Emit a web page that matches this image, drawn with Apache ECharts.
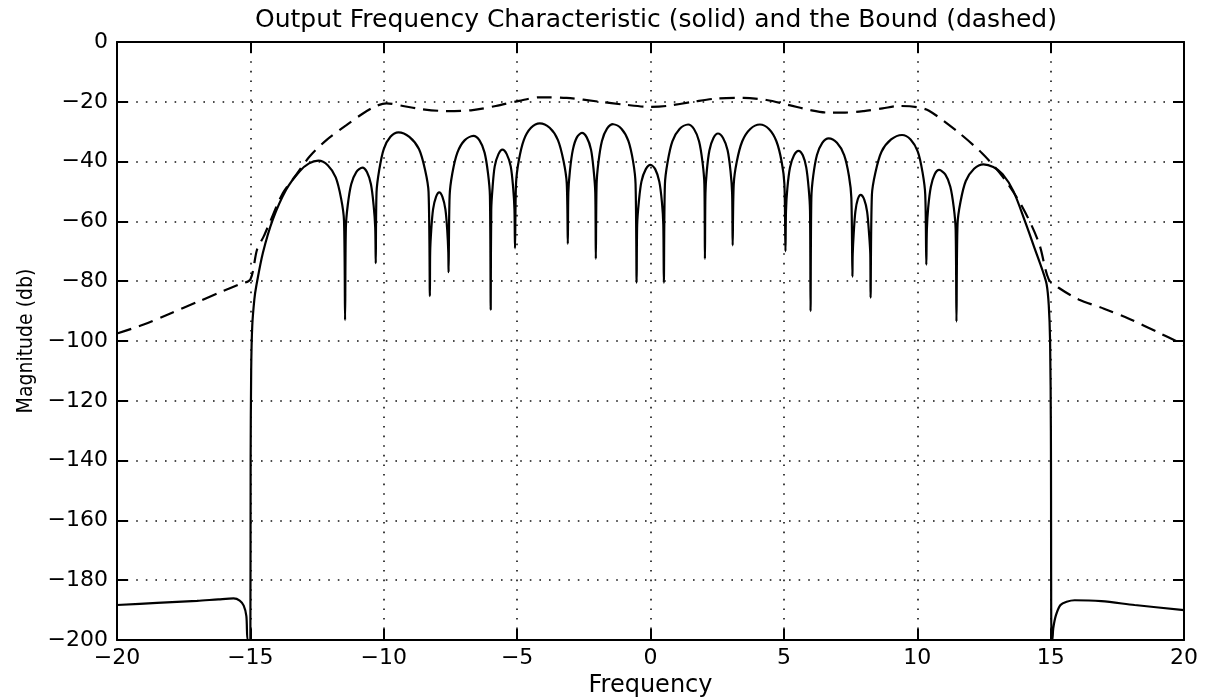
<!DOCTYPE html>
<html>
<head>
<meta charset="utf-8">
<script src="https://cdn.jsdelivr.net/npm/echarts@6/dist/echarts.min.js"></script>
<style>
html,body{margin:0;padding:0;background:#fff;overflow:hidden;}
#chart{width:1208px;height:697px;}
</style>
</head>
<body>
<div id="chart"></div>
<script>
// ---- data ----
const titleText = 'Output Frequency Characteristic (solid) and the Bound (dashed)';
const xName = 'Frequency';
const yName = 'Magnitude (db)';
const xTicks = [-20, -15, -10, -5, 0, 5, 10, 15, 20];
const yTicks = [0, -20, -40, -60, -80, -100, -120, -140, -160, -180, -200];

// solid: output frequency characteristic [frequency, dB]
const outputResponse = [
  [-20, -188.3], [-18.5, -187.6], [-17, -186.9], [-16.2, -186.4], [-15.63, -186.1], [-15.4, -186.8], [-15.25, -188.5], [-15.15, -192], [-15.1, -200],
  [-15.0, -200], [-14.99, -140], [-14.97, -110], [-14.93, -95], [-14.85, -86], [-14.78, -81.7], [-14.53, -70.5], [-14.16, -59.4], [-13.66, -49.4], [-13.16, -43.3], [-12.8, -40.6], [-12.45, -39.7],
  [-12.10, -41.2], [-11.80, -45.3], [-11.60, -52.3], [-11.49, -59.7], [-11.45, -93],
  [-11.42, -62], [-11.35, -54.6], [-11.22, -47.6], [-11.03, -43.5], [-10.80, -42], [-10.63, -43.5], [-10.48, -47.6], [-10.38, -54.6], [-10.32, -62], [-10.30, -74],
  [-10.27, -50.2], [-10.17, -42.8], [-10.00, -35.8], [-9.75, -31.7], [-9.45, -30.2], [-9.04, -31.7], [-8.68, -35.8], [-8.45, -42.8], [-8.32, -50.2], [-8.27, -85],
  [-8.26, -70.3], [-8.22, -62.9], [-8.15, -55.9], [-8.04, -51.8], [-7.92, -50.3], [-7.80, -51.8], [-7.69, -55.9], [-7.62, -62.9], [-7.58, -70.3], [-7.57, -77],
  [-7.53, -51.4], [-7.43, -44], [-7.24, -37], [-6.97, -32.9], [-6.64, -31.4], [-6.41, -32.9], [-6.22, -37], [-6.09, -44], [-6.02, -51.4], [-5.99, -89.5],
  [-5.97, -56], [-5.92, -48.6], [-5.84, -41.6], [-5.70, -37.5], [-5.55, -36], [-5.39, -37.5], [-5.24, -41.6], [-5.15, -48.6], [-5.10, -56], [-5.08, -69],
  [-5.04, -47.2], [-4.94, -39.8], [-4.75, -32.8], [-4.48, -28.7], [-4.15, -27.2], [-3.78, -28.7], [-3.47, -32.8], [-3.26, -39.8], [-3.14, -47.2], [-3.10, -67.5],
  [-3.08, -50.4], [-3.02, -43], [-2.91, -36], [-2.76, -31.9], [-2.57, -30.4], [-2.39, -31.9], [-2.23, -36], [-2.13, -43], [-2.07, -50.4], [-2.05, -72.5],
  [-2.02, -47.5], [-1.95, -40.1], [-1.82, -33.1], [-1.63, -29], [-1.40, -27.5], [-1.09, -29], [-0.83, -33.1], [-0.65, -40.1], [-0.56, -47.5], [-0.52, -80.5],
  [-0.50, -61.1], [-0.44, -53.7], [-0.34, -46.7], [-0.18, -42.6], [0, -41.1], [0.18, -42.6], [0.33, -46.7], [0.43, -53.7], [0.48, -61.1], [0.50, -80.5],
  [0.54, -47.6], [0.64, -40.2], [0.82, -33.2], [1.09, -29.1], [1.41, -27.6], [1.63, -29.1], [1.82, -33.2], [1.95, -40.2], [2.02, -47.6], [2.04, -72.5],
  [2.06, -50.6], [2.11, -43.2], [2.21, -36.2], [2.36, -32.1], [2.53, -30.6], [2.72, -32.1], [2.89, -36.2], [3.00, -43.2], [3.06, -50.6], [3.08, -68],
  [3.12, -47.6], [3.23, -40.2], [3.44, -33.2], [3.74, -29.1], [4.10, -27.6], [4.44, -29.1], [4.72, -33.2], [4.92, -40.2], [5.02, -47.6], [5.06, -70],
  [5.08, -56.4], [5.13, -49], [5.23, -42], [5.38, -37.9], [5.55, -36.4], [5.71, -37.9], [5.84, -42], [5.93, -49], [5.98, -56.4], [6.00, -90],
  [6.03, -52.2], [6.10, -44.8], [6.24, -37.8], [6.44, -33.7], [6.68, -32.2], [6.99, -33.7], [7.26, -37.8], [7.44, -44.8], [7.53, -52.2], [7.57, -78.5],
  [7.58, -71.1], [7.62, -63.7], [7.68, -56.7], [7.77, -52.6], [7.88, -51.1], [8.01, -52.6], [8.12, -56.7], [8.19, -63.7], [8.24, -71.1], [8.25, -85.5],
  [8.30, -51.1], [8.43, -43.7], [8.66, -36.7], [9.02, -32.6], [9.43, -31.1], [9.75, -32.6], [10.02, -36.7], [10.20, -43.7], [10.30, -51.1], [10.34, -74.5],
  [10.36, -62.8], [10.41, -55.4], [10.51, -48.4], [10.65, -44.3], [10.82, -42.8], [11.05, -44.3], [11.24, -48.4], [11.37, -55.4], [11.44, -62.8], [11.47, -93.5],
  [11.51, -60.9], [11.62, -53.5], [11.82, -46.5], [12.13, -42.4], [12.48, -40.9], [12.85, -41.8], [13.2, -44.2], [13.6, -49.8], [14.04, -60], [14.4, -69], [14.7, -76.5], [14.85, -81], [14.93, -88], [14.98, -100], [15.01, -130], [15.03, -200],
  [15.06, -200], [15.1, -196], [15.2, -191.7], [15.37, -188.3], [15.6, -187.2], [15.9, -186.7], [16.9, -187], [18.15, -188.3], [20, -190]
];

// dashed: the bound [frequency, dB]
const boundCurve = [
  [-20, -97.5], [-19, -94.5], [-18, -90.8], [-17, -87], [-16, -83.2], [-15.4, -81], [-15, -79.4], [-14.75, -69.4], [-14.5, -65],
  [-14.28, -60.5], [-13.78, -50.5], [-13.28, -44.4], [-12.78, -38.3], [-12.15, -32.8], [-11.4, -27.8], [-10.78, -23.9], [-10.28, -21.4],
  [-9.9, -20.5], [-9.28, -21.4], [-8.53, -22.5], [-7.66, -23.1], [-6.67, -22.8], [-5.8, -21.4], [-4.93, -19.7], [-4.15, -18.5], [-3.15, -18.7],
  [-1.9, -20], [-1.03, -20.9], [0, -21.7], [0.6, -21.4], [1.6, -20], [2.48, -18.9], [3.48, -18.7], [4.35, -19.4], [5.2, -21.1], [6.0, -22.8],
  [6.64, -23.6], [7.3, -23.6], [8.0, -23.1], [8.7, -22.2], [9.3, -21.4], [10, -21.8], [10.44, -23], [11.43, -29.4], [12.43, -37.2], [13.2, -45],
  [13.93, -55], [14.56, -67.2], [14.93, -79.4], [15.3, -82.2], [16.05, -86.1], [17, -89.2], [18, -92.8], [19, -97], [20, -101.3]
];

// ---- chart ----
const FONT = 'DejaVu Sans';
const fmt = v => (v < 0 ? '\u2212' + Math.abs(v) : String(v));
const dotted = { color: '#111', width: 1.6, type: [1.6, 8] };
const axisLine = { show: true, onZero: false, lineStyle: { color: '#000', width: 2 } };
const tick = { show: true, inside: true, length: 11, lineStyle: { color: '#000', width: 2 } };

const xMin = xTicks[0], xMax = xTicks[xTicks.length - 1];
const yMin = yTicks[yTicks.length - 1], yMax = yTicks[0];

const chart = echarts.init(document.getElementById('chart'), null, { renderer: 'canvas' });
chart.setOption({
  backgroundColor: '#fff',
  animation: false,
  title: {
    text: titleText,
    left: 651, top: 3, textAlign: 'center',
    textStyle: { fontFamily: FONT, fontSize: 25, fontWeight: 'normal', color: '#000' }
  },
  grid: { left: 117, right: 24, top: 42, bottom: 57, containLabel: false, outerBoundsMode: 'none' },
  xAxis: [{
    type: 'value', min: xMin, max: xMax, interval: 5, position: 'bottom',
    name: xName, nameLocation: 'middle', nameGap: 30,
    nameTextStyle: { fontFamily: FONT, fontSize: 24, color: '#000' },
    axisLine: axisLine, axisTick: tick,
    axisLabel: { fontFamily: FONT, fontSize: 22, color: '#000', margin: 7, formatter: fmt },
    splitLine: { show: true, lineStyle: dotted }
  }, {
    type: 'value', min: xMin, max: xMax, interval: 5, position: 'top',
    axisLine: axisLine, axisTick: tick, axisLabel: { show: false }, splitLine: { show: false }
  }],
  yAxis: [{
    type: 'value', min: yMin, max: yMax, interval: 20, position: 'left',
    name: yName, nameLocation: 'middle', nameGap: 80, nameRotate: 90,
    nameTextStyle: { fontFamily: '"DejaVu Sans Condensed", sans-serif', fontSize: 21, color: '#000' },
    axisLine: axisLine, axisTick: tick,
    axisLabel: { fontFamily: FONT, fontSize: 22, color: '#000', margin: 9, formatter: fmt },
    splitLine: { show: true, lineStyle: dotted }
  }, {
    type: 'value', min: yMin, max: yMax, interval: 20, position: 'right',
    axisLine: axisLine, axisTick: tick, axisLabel: { show: false }, splitLine: { show: false }
  }],
  series: [{
    name: 'Output', type: 'line', xAxisIndex: 0, yAxisIndex: 0,
    data: outputResponse, showSymbol: false, symbol: 'none', smooth: 0.3,
    lineStyle: { color: '#000', width: 2.2 }, clip: true, z: 3
  }, {
    name: 'Bound', type: 'line', xAxisIndex: 0, yAxisIndex: 0,
    data: boundCurve, showSymbol: false, symbol: 'none', smooth: 0.3,
    lineStyle: { color: '#000', width: 2.2, type: [15, 8] }, clip: true, z: 2
  }]
});
</script>
</body>
</html>
